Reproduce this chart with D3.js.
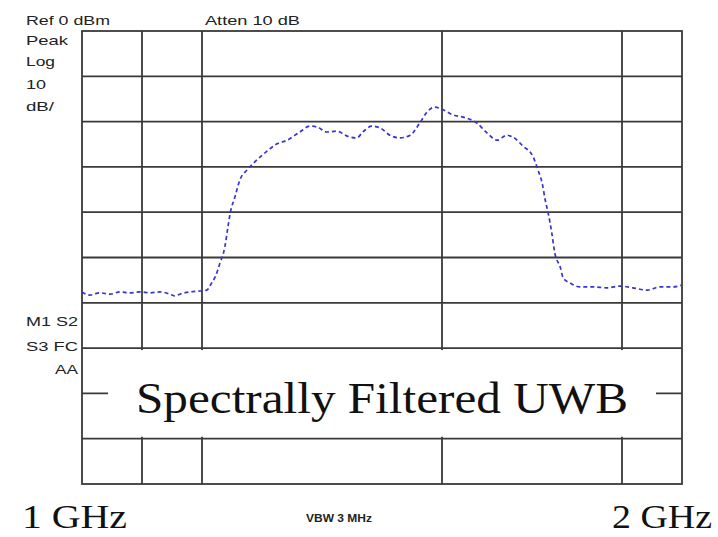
<!DOCTYPE html>
<html>
<head>
<meta charset="utf-8">
<script src="https://cdn.jsdelivr.net/npm/d3@7"></script>
<style>
  body { margin: 0; background: #fff; }
  svg { display: block; }
  .hdr { font-family: "Liberation Sans", Arial, sans-serif; font-size: 13px; fill: #222; }
  .big { font-family: "Liberation Serif", "Times New Roman", serif; fill: #111; }
</style>
</head>
<body>
<div id="chart"></div>
<script>
// Spectrum analyzer trace: spectrally filtered UWB, 1-2 GHz
const width = 718;
const height = 537;
const plot = { left: 82, right: 682, top: 31, bottom: 484 };

// trace: frequency (GHz) and level (dBm)
const freqs = [1.000, 1.013, 1.030, 1.047, 1.063, 1.080, 1.097, 1.113, 1.130, 1.147, 1.155, 1.163, 1.180, 1.197, 1.208,
  1.217, 1.222, 1.230, 1.238, 1.243, 1.247, 1.255, 1.263, 1.275, 1.288, 1.305, 1.325, 1.342, 1.363, 1.380, 1.392,
  1.408, 1.425, 1.442, 1.458, 1.468, 1.483, 1.497, 1.513, 1.530, 1.547, 1.563, 1.575, 1.588, 1.602, 1.618, 1.635,
  1.658, 1.675, 1.692, 1.708, 1.718, 1.735, 1.752, 1.760, 1.767, 1.772, 1.777, 1.783, 1.788, 1.797, 1.802, 1.813,
  1.830, 1.852, 1.875, 1.897, 1.918, 1.942, 1.963, 1.985, 2.000];
const levels = [-57.6, -58.3, -57.8, -58.1, -57.6, -57.8, -57.6, -57.8, -57.6, -58.1, -58.5, -58.1, -57.6, -57.4, -57.2,
  -55.4, -54.3, -51.2, -47.7, -43.5, -40.2, -36.6, -32.9, -30.7, -28.9, -26.9, -24.9, -24.1, -22.3, -21.0, -21.2,
  -22.3, -22.1, -23.2, -23.6, -22.3, -21.0, -21.4, -23.0, -23.6, -23.0, -20.3, -17.9, -16.8, -17.4, -18.5, -19.0,
  -20.3, -22.5, -24.1, -23.0, -23.4, -25.4, -27.8, -30.7, -33.6, -37.3, -40.2, -44.6, -49.0, -52.1, -54.5, -55.6,
  -56.5, -56.5, -56.7, -56.3, -56.7, -57.2, -56.5, -56.5, -56.1];

// grid positions
const freqGrid = [1.1, 1.2, 1.6, 1.9];
const levelGrid = [-10, -20, -30, -40, -50, -60, -70, -80, -90];

// annotations
const headerLabels = [
  { text: "Ref 0 dBm", x: 26, y: 25, w: 84 },
  { text: "Atten 10 dB", x: 205, y: 25, w: 95 },
  { text: "Peak", x: 26, y: 45, w: 42 },
  { text: "Log", x: 26, y: 66, w: 29 },
  { text: "10", x: 26, y: 89, w: 20 },
  { text: "dB/", x: 26, y: 111, w: 28 },
  { text: "M1  S2", x: 26, y: 326, w: 52 },
  { text: "S3  FC", x: 26, y: 351, w: 52 },
  { text: "AA", x: 55, y: 374, w: 23 }
];

const svg = d3.select("#chart")
  .append("svg")
  .attr("width", width)
  .attr("height", height);

const x = d3.scaleLinear().domain([1, 2]).range([plot.left, plot.right]);
const y = d3.scaleLinear().domain([-100, 0]).range([plot.bottom, plot.top]);

const gridColor = "#3a3a3a";

// horizontal grid
svg.append("g")
  .selectAll("line")
  .data(levelGrid)
  .enter()
  .append("line")
  .attr("x1", plot.left).attr("x2", plot.right)
  .attr("y1", d => y(d)).attr("y2", d => y(d))
  .attr("stroke", gridColor)
  .attr("stroke-width", 1.8);

// vertical grid
svg.append("g")
  .selectAll("line")
  .data(freqGrid)
  .enter()
  .append("line")
  .attr("x1", d => x(d)).attr("x2", d => x(d))
  .attr("y1", plot.top).attr("y2", plot.bottom)
  .attr("stroke", gridColor)
  .attr("stroke-width", 1.8);

// frame
svg.append("rect")
  .attr("x", plot.left).attr("y", plot.top)
  .attr("width", plot.right - plot.left)
  .attr("height", plot.bottom - plot.top)
  .attr("fill", "none")
  .attr("stroke", gridColor)
  .attr("stroke-width", 1.8);

// the trace
const traceData = freqs.map((f, i) => [f, levels[i]]);
const line = d3.line()
  .x(d => x(d[0]))
  .y(d => y(d[1]))
  .curve(d3.curveMonotoneX);

svg.append("path")
  .datum(traceData)
  .attr("d", line)
  .attr("fill", "none")
  .attr("stroke", "#3535d2")
  .attr("stroke-width", 1.7)
  .attr("stroke-dasharray", "4,3");

// white label box over the lower grid
svg.append("rect")
  .attr("x", 108).attr("y", y(-70) + 2)
  .attr("width", 548)
  .attr("height", y(-90) - y(-70) - 4)
  .attr("fill", "#fff");

svg.append("text")
  .attr("class", "big")
  .attr("x", 136).attr("y", 413)
  .attr("textLength", 492)
  .attr("lengthAdjust", "spacingAndGlyphs")
  .style("font-size", "44px")
  .text("Spectrally Filtered UWB");

// small instrument labels
svg.append("g")
  .selectAll("text")
  .data(headerLabels)
  .enter()
  .append("text")
  .attr("class", "hdr")
  .attr("x", d => d.x).attr("y", d => d.y)
  .attr("textLength", d => d.w)
  .attr("lengthAdjust", "spacingAndGlyphs")
  .text(d => d.text);

// bottom labels
svg.append("text")
  .attr("class", "big")
  .attr("x", 22).attr("y", 528)
  .attr("textLength", 105)
  .attr("lengthAdjust", "spacingAndGlyphs")
  .style("font-size", "33px")
  .text("1 GHz");

svg.append("text")
  .attr("class", "big")
  .attr("x", 612).attr("y", 528)
  .attr("textLength", 100)
  .attr("lengthAdjust", "spacingAndGlyphs")
  .style("font-size", "33px")
  .text("2 GHz");

svg.append("text")
  .attr("class", "hdr")
  .attr("x", 306).attr("y", 522)
  .attr("textLength", 66)
  .attr("lengthAdjust", "spacingAndGlyphs")
  .style("font-size", "10px")
  .style("font-weight", "bold")
  .text("VBW 3 MHz");
</script>
</body>
</html>
